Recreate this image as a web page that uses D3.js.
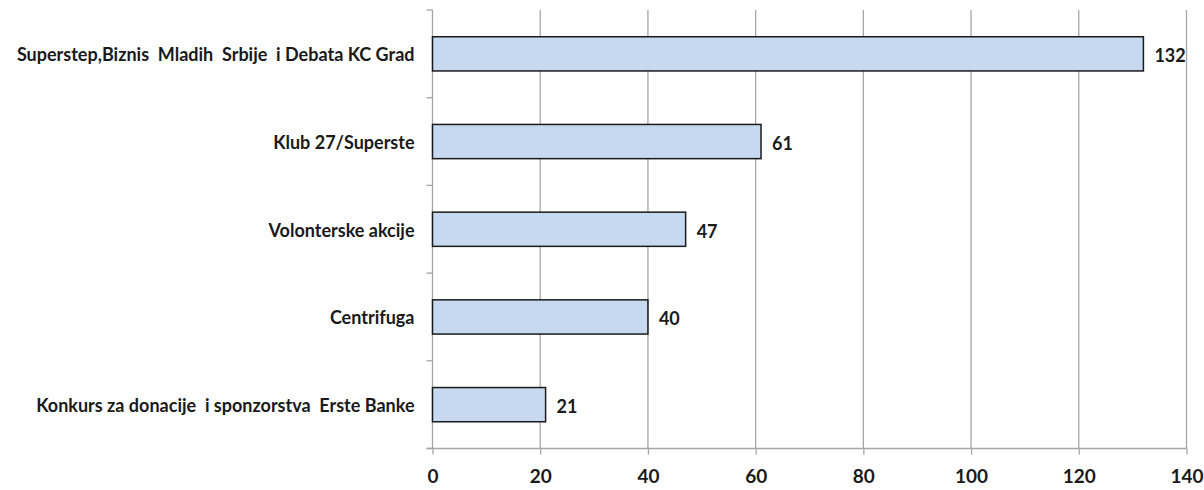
<!DOCTYPE html>
<html><head><meta charset="utf-8">
<script src="https://cdn.jsdelivr.net/npm/d3@7"></script>
<style>body{margin:0;background:#fff}</style>
</head><body>
<svg id="c" width="1204" height="490"></svg>
<script>
const categories = ["Superstep,Biznis  Mladih  Srbije  i Debata KC Grad","Klub 27/Superste","Volonterske akcije","Centrifuga","Konkurs za donacije  i sponzorstva  Erste Banke"];
const values = [132, 61, 47, 40, 21];
const ticks = [0,20,40,60,80,100,120,140];

(function(){
const svg = d3.select("#c");
const pL = 432.5, pR = 1186.5, pT = 10, pB = 448.5;
const x = d3.scaleLinear().domain([0,140]).range([pL,pR]);
const y = d3.scaleBand().domain(categories).range([pT,pB]).paddingInner(0.61).paddingOuter(0.305);
const yb = d3.scaleBand().domain(categories).range([pT,pB]);
const font = "Lato, 'Open Sans', sans-serif";

svg.append("g").selectAll("line").data(ticks.slice(1)).join("line")
  .attr("x1",d=>x(d)).attr("x2",d=>x(d)).attr("y1",pT).attr("y2",pB)
  .attr("stroke","#a6a6a6").attr("stroke-width",1.3);

const xa = svg.append("g").attr("transform",`translate(0,${pB})`)
  .call(d3.axisBottom(x).tickValues(ticks).tickSize(6).tickPadding(15));
xa.select(".domain").remove();
xa.selectAll(".tick line").attr("stroke","#a6a6a6").attr("stroke-width",1.3);
xa.selectAll("text").attr("font-family",font).attr("font-size",19).attr("font-weight","bold").attr("fill","#1a1a1a");
svg.append("line").attr("x1",pL-6).attr("x2",pR).attr("y1",pB).attr("y2",pB)
  .attr("stroke","#a6a6a6").attr("stroke-width",1.3);

svg.append("line").attr("x1",pL).attr("x2",pL).attr("y1",pT).attr("y2",pB)
  .attr("stroke","#a6a6a6").attr("stroke-width",1.3);
const yt = categories.map(c=>yb(c)).concat([pB]);
svg.append("g").selectAll("line").data(yt).join("line")
  .attr("x1",pL-6).attr("x2",pL).attr("y1",d=>d).attr("y2",d=>d)
  .attr("stroke","#a6a6a6").attr("stroke-width",1.3);

svg.append("g").selectAll("text").data(categories).join("text")
  .attr("x",pL-18).attr("y",d=>yb(d)+yb.bandwidth()/2+1).attr("dy","0.35em")
  .attr("text-anchor","end").attr("font-family",font).attr("font-size",18).attr("font-weight","bold")
  .attr("fill","#1a1a1a").style("white-space","pre").text(d=>d);

svg.append("g").selectAll("rect").data(values).join("rect")
  .attr("x",x(0)).attr("y",(d,i)=>y(categories[i]))
  .attr("width",d=>x(d)-x(0)).attr("height",y.bandwidth())
  .attr("fill","#c6d9f1").attr("stroke","#1a1a1a").attr("stroke-width",1.5);

svg.append("g").selectAll("text").data(values).join("text")
  .attr("x",d=>x(d)+11).attr("y",(d,i)=>y(categories[i])+y.bandwidth()/2+2).attr("dy","0.35em")
  .attr("font-family",font).attr("font-size",18).attr("font-weight","bold").attr("fill","#1a1a1a")
  .text(d=>d);
})();
</script>
</body></html>
